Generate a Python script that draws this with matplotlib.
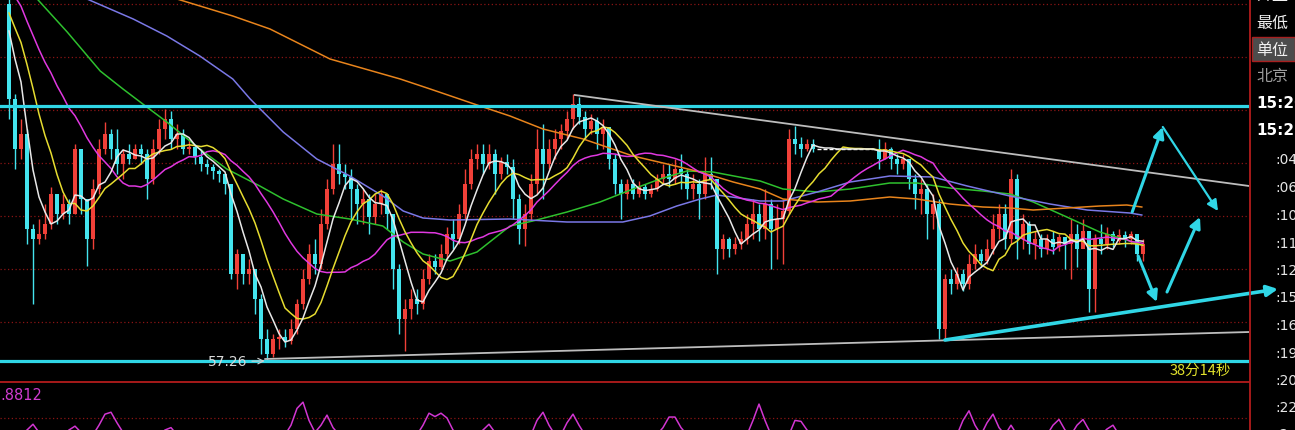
import numpy as np
import pandas as pd
import matplotlib.pyplot as plt
from matplotlib.lines import Line2D
from matplotlib.patches import Rectangle

plt.rcParams['font.family'] = ['Noto Sans CJK SC', 'DejaVu Sans']

# ---- data (price units, 0.01 per screen pixel) ----
first_open = 60.83
lead_closes = [61.68, 61.48, 61.58, 61.28, 61.38, 61.18, 61.08, 61.28, 60.98, 61.08,
               60.88, 60.98, 60.78, 60.88, 61.08, 60.78, 60.68, 60.88, 60.58]

closes = [59.88, 59.38, 59.53, 58.58, 58.48, 58.53, 58.63, 58.93, 58.73, 58.83,
          58.73, 59.38, 58.88, 58.48, 58.98, 59.38, 59.53, 59.38, 59.23, 59.33,
          59.28, 59.38, 59.33, 59.08, 59.38, 59.58, 59.68, 59.48, 59.53, 59.38,
          59.40, 59.30, 59.23, 59.20, 59.16, 59.13, 59.03, 58.13, 58.33, 58.13,
          58.18, 57.88, 57.48, 57.33, 57.48, 57.50, 57.46, 57.58, 57.83, 58.08,
          58.33, 58.23, 58.63, 58.98, 59.23, 59.13, 59.10, 58.98, 58.83, 58.88,
          58.70, 58.83, 58.93, 58.73, 58.18, 57.68, 57.78, 57.88, 57.83, 58.08,
          58.26, 58.20, 58.33, 58.53, 58.48, 58.73, 59.03, 59.28, 59.33, 59.23,
          59.33, 59.13, 59.25, 59.20, 58.88, 58.58, 58.73, 59.03, 59.38, 59.23,
          59.38, 59.48, 59.56, 59.68, 59.83, 59.70, 59.58, 59.66, 59.53, 59.60,
          59.28, 59.03, 58.93, 59.03, 58.93, 59.00, 58.93, 58.98, 59.08, 59.13,
          59.08, 59.18, 59.13, 58.98, 59.03, 58.93, 59.13, 59.08, 58.38, 58.48,
          58.38, 58.43, 58.48, 58.63, 58.73, 58.58, 58.83, 58.58, 58.68, 58.76,
          59.48, 59.43, 59.38, 59.43, 59.38, 59.38, 59.38, 59.38, 59.38, 59.38,
          59.38, 59.38, 59.38, 59.38, 59.38, 59.28, 59.38, 59.28, 59.23, 59.28,
          59.08, 58.93, 58.98, 58.73, 58.83, 57.58, 58.08, 58.03, 58.13, 58.03,
          58.23, 58.33, 58.26, 58.38, 58.58, 58.73, 58.48, 59.08, 58.48, 58.63,
          58.43, 58.48, 58.38, 58.48, 58.40, 58.50, 58.43, 58.53, 58.38, 58.56,
          57.98, 58.48, 58.43, 58.53, 58.46, 58.52, 58.48, 58.53, 58.33, 58.43]

highs = [60.88, 59.93, 59.68, 59.58, 58.63, 58.68, 58.83, 59.00, 58.93, 58.93,
         58.88, 59.43, 59.33, 58.88, 59.08, 59.48, 59.65, 59.58, 59.58, 59.38,
         59.43, 59.43, 59.43, 59.38, 59.48, 59.68, 59.78, 59.76, 59.63, 59.58,
         59.48, 59.43, 59.38, 59.28, 59.23, 59.18, 59.13, 59.03, 58.38, 58.33,
         58.28, 58.18, 57.93, 57.58, 57.53, 57.58, 57.58, 57.68, 57.88, 58.18,
         58.43, 58.48, 58.78, 59.08, 59.43, 59.43, 59.23, 59.18, 59.03, 58.98,
         58.93, 58.93, 58.98, 58.93, 58.73, 58.23, 57.88, 57.98, 57.98, 58.18,
         58.33, 58.33, 58.43, 58.60, 58.68, 58.83, 59.18, 59.38, 59.43, 59.43,
         59.43, 59.38, 59.30, 59.33, 59.28, 58.93, 58.83, 59.13, 59.58, 59.63,
         59.48, 59.58, 59.63, 59.76, 59.93, 59.90, 59.76, 59.73, 59.70, 59.68,
         59.58, 59.33, 59.08, 59.08, 59.08, 59.06, 59.03, 59.03, 59.13, 59.23,
         59.23, 59.28, 59.33, 59.18, 59.13, 59.08, 59.30, 59.30, 59.08, 58.53,
         58.50, 58.50, 58.56, 58.73, 58.88, 58.83, 58.98, 58.88, 58.83, 58.88,
         59.58, 59.61, 59.50, 59.48, 59.48, 59.38, 59.38, 59.38, 59.38, 59.38,
         59.38, 59.38, 59.38, 59.38, 59.38, 59.48, 59.45, 59.40, 59.33, 59.33,
         59.28, 59.13, 59.08, 59.03, 58.93, 58.88, 58.13, 58.18, 58.20, 58.18,
         58.33, 58.43, 58.38, 58.48, 58.73, 58.83, 58.83, 59.18, 59.13, 58.73,
         58.66, 58.56, 58.53, 58.53, 58.56, 58.53, 58.50, 58.68, 58.63, 58.68,
         58.56, 58.53, 58.63, 58.60, 58.56, 58.58, 58.56, 58.56, 58.50, 58.48]

lows = [59.68, 59.18, 59.28, 58.43, 57.83, 58.43, 58.48, 58.58, 58.63, 58.68,
        58.63, 58.73, 58.73, 58.21, 58.38, 58.93, 59.33, 59.28, 59.13, 59.08,
        59.23, 59.28, 59.23, 58.88, 59.03, 59.33, 59.48, 59.38, 59.38, 59.33,
        59.33, 59.23, 59.16, 59.13, 59.08, 59.05, 58.93, 58.08, 57.98, 58.03,
        58.03, 57.73, 57.33, 57.26, 57.30, 57.38, 57.40, 57.43, 57.53, 57.78,
        58.03, 58.13, 58.18, 58.58, 58.93, 59.03, 58.98, 58.68, 58.63, 58.63,
        58.53, 58.63, 58.73, 58.58, 57.98, 57.53, 57.36, 57.68, 57.73, 57.78,
        58.03, 58.13, 58.18, 58.28, 58.38, 58.43, 58.68, 58.98, 59.18, 59.13,
        59.18, 58.93, 59.08, 59.13, 58.68, 58.43, 58.41, 58.66, 58.93, 58.88,
        59.18, 59.28, 59.38, 59.48, 59.58, 59.63, 59.48, 59.53, 59.38, 59.38,
        59.18, 58.93, 58.68, 58.88, 58.88, 58.90, 58.88, 58.90, 58.96, 59.03,
        59.00, 59.03, 58.98, 58.88, 58.88, 58.68, 58.88, 58.98, 58.13, 58.28,
        58.30, 58.33, 58.38, 58.43, 58.48, 58.46, 58.48, 58.18, 58.28, 58.23,
        58.73, 59.33, 59.30, 59.36, 59.35, 59.38, 59.38, 59.38, 59.38, 59.38,
        59.38, 59.38, 59.38, 59.38, 59.38, 59.18, 59.28, 59.18, 59.13, 59.18,
        58.98, 58.78, 58.73, 58.48, 58.58, 57.48, 57.48, 57.93, 57.98, 57.96,
        57.98, 58.18, 58.20, 58.23, 58.33, 58.48, 58.38, 58.43, 58.28, 58.38,
        58.33, 58.28, 58.30, 58.33, 58.33, 58.36, 58.18, 58.08, 58.20, 58.43,
        57.75, 57.75, 58.33, 58.38, 58.40, 58.43, 58.40, 58.43, 58.26, 58.26]

# long moving averages (their history starts before the visible window)
ma60_idx = [1.8, 4.7, 9.7, 15.2, 19, 22.3, 26.3, 31.8, 36.3, 41.8, 45.7, 51.3, 56.8, 62.3,
            65.7, 69, 73.5, 78, 83.5, 87.3, 93, 98.5, 104, 108.5, 113, 117.3, 125.2, 129,
            134.7, 140.2, 146.8, 151.3, 156.8, 162.3, 166.8, 170.7, 176.3, 181.8, 187.3, 188.8]
ma60_val = [61.03, 60.88, 60.55, 60.16, 59.98, 59.83, 59.65, 59.38, 59.18, 59.01, 58.88, 58.73,
            58.68, 58.61, 58.45, 58.33, 58.26, 58.35, 58.61, 58.66, 58.75, 58.85, 58.98, 59.08,
            59.16, 59.15, 59.06, 58.98, 58.95, 58.98, 59.04, 59.04, 58.99, 58.96, 58.93, 58.85,
            58.70, 58.55, 58.45, 58.42]
ma120_idx = [8.5, 13, 20.7, 26.3, 31.8, 37.3, 40.2, 45.7, 51.3, 56.8, 62.3, 65.7, 69, 73.5,
             83.5, 93, 102.3, 106.8, 111.3, 115.2, 118, 125.2, 129, 134.7, 140.2, 146.8, 154,
             159.7, 166.8, 173.5, 179.7, 186.8, 188.8]
ma120_val = [61.08, 60.88, 60.68, 60.51, 60.31, 60.08, 59.88, 59.55, 59.28, 59.11, 58.91, 58.76,
             58.69, 58.67, 58.68, 58.65, 58.65, 58.71, 58.81, 58.88, 58.92, 58.86, 58.86, 58.95,
             59.05, 59.11, 59.10, 59.01, 58.91, 58.83, 58.77, 58.74, 58.72]
ma250_idx = [18.5, 28, 37.3, 43.5, 48.5, 53.5, 65.2, 70.2, 79, 83.5, 89, 95.7, 104, 109.7,
             115.2, 120.7, 125.2, 129, 134.7, 140.2, 146.8, 151.3, 156.8, 162.3, 166.8, 170.7,
             176.3, 181.8, 186.3, 188.8]
ma250_val = [61.03, 60.88, 60.71, 60.58, 60.43, 60.28, 60.08, 59.98, 59.80, 59.71, 59.58, 59.48,
             59.31, 59.23, 59.15, 59.05, 58.98, 58.88, 58.85, 58.86, 58.90, 58.88, 58.83, 58.80,
             58.79, 58.77, 58.79, 58.81, 58.82, 58.80]

# lower oscillator pane
osc = [-.1, -.1, -.1, 0, .12, -.05, -.1, -.1, -.1, -.1,
       0, .08, -.05, -.1, -.1, .1, .33, .37, .15, -.05,
       -.1, -.1, -.1, -.1, -.1, -.1, 0, .05, -.1, -.1,
       -.1, -.1, -.1, -.1, -.1, -.1, -.1, -.1, -.1, -.1,
       -.1, -.1, -.1, -.1, -.1, -.1, -.1, .1, .45, .58,
       .2, -.05, .1, .31, .05, -.1, -.1, -.1, -.1, -.1,
       -.1, -.1, -.1, -.1, -.1, -.1, -.1, -.1, -.1, .1,
       .35, .28, .35, .25, 0, -.1, -.1, -.1, -.1, 0,
       .12, -.05, -.1, -.1, -.1, -.1, -.1, -.1, .2, .37,
       .1, -.1, -.1, .15, .33, .1, -.1, -.1, -.1, -.1,
       -.1, -.1, -.1, -.1, -.1, -.1, -.1, -.1, -.1, .05,
       .27, .27, .05, -.1, -.1, -.1, -.1, -.1, -.1, -.1,
       -.1, -.1, -.1, -.1, .2, .54, .2, -.1, -.1, -.1,
       -.1, .2, .18, 0, -.1, -.1, -.1, -.1, -.1, -.1,
       -.1, -.1, -.1, -.1, -.1, -.1, -.1, -.1, -.1, -.1,
       -.1, -.1, -.1, -.1, -.1, -.1, -.1, -.1, -.1, .2,
       .4, .1, -.1, .15, .33, .05, -.1, .1, -.1, -.1,
       -.1, -.1, -.1, -.1, .1, .22, 0, -.1, .1, .22,
       0, -.1, -.1, .02, .1, -.1, -.1, -.1, -.1, -.1]

# drawn objects (candle index, price)
grid_levels = [60.83, 60.30, 59.77, 59.24, 58.71, 58.18, 57.65]
hlevels = [59.81, 57.26]
upper_trend = ([94.3, 206.7], [59.92, 59.01])
lower_trend = ([42.7, 206.7], [57.28, 57.55])
support_arrow = ((156.0, 57.47), (211.5, 57.98))
forecast_arrows = [((187.2, 58.75), (192.3, 59.60)),
                   ((192.3, 59.60), (201.5, 58.76)),
                   ((188.2, 58.31), (191.3, 57.85)),
                   ((193.0, 57.95), (198.5, 58.70))]
side_labels = ['开盘', '最低', '单位', '北京', '15:20', '15:21', ':04', ':06', ':10',
               ':11', ':12', ':15', ':16', ':19', ':20', ':22', ':2']

RED = '#f04038'
CYAN = '#44e4ee'
LINE_CYAN = '#30d6e6'
GRIDRED = '#8a1414'

W, H = 1295, 431
split = 1249
fig = plt.figure(figsize=(W / 100, H / 100), dpi=100, facecolor='black')
ax = fig.add_axes([0, 48 / H, split / W, 383 / H])
ax2 = fig.add_axes([0, 0, split / W, 48 / H])
for a in (ax, ax2):
    a.set_facecolor('black')
    a.set_axis_off()

n = len(closes)
idx = np.arange(n)
c = np.array(closes)
h = np.array(highs)
l = np.array(lows)
o = np.array([first_open] + closes[:-1])
up = c > o + 1e-9
down = c < o - 1e-9
flat = ~(up | down)

for g in grid_levels:
    ax.axhline(g, color=GRIDRED, lw=0.9, ls=(0, (1, 2)), zorder=1)

ax.vlines(idx[up], l[up], h[up], color=RED, lw=1, zorder=2)
ax.bar(idx[up], (c - o)[up], bottom=o[up], width=0.6, color=RED, lw=0, zorder=2)
ax.vlines(idx[down], l[down], h[down], color=CYAN, lw=1, zorder=2)
ax.bar(idx[down], (o - c)[down], bottom=c[down], width=0.6, color=CYAN, lw=0, zorder=2)
ax.hlines(c[flat], idx[flat] - 0.4, idx[flat] + 0.4, color='white', lw=1, zorder=2)

full = pd.Series(lead_closes + closes)
for win, col in [(20, '#e038e0'), (10, '#e6dc30'), (5, '#e8e8e8')]:
    ma = full.rolling(win).mean().to_numpy()[len(lead_closes):]
    ax.plot(idx, ma, color=col, lw=1.1, zorder=4)
ax.plot(ma60_idx, ma60_val, color='#2ec02e', lw=1.1, zorder=3)
ax.plot(ma120_idx, ma120_val, color='#7a78e6', lw=1.1, zorder=3)
ax.plot(ma250_idx, ma250_val, color='#e8841c', lw=1.1, zorder=3)

for lv in hlevels:
    ax.axhline(lv, color=LINE_CYAN, lw=2.3, zorder=5)
ax.plot(*upper_trend, color='#bdbdbd', lw=1.3, zorder=5)
ax.plot(*lower_trend, color='#bdbdbd', lw=1.3, zorder=5)

ax.annotate('', xy=support_arrow[1], xytext=support_arrow[0], annotation_clip=False,
            arrowprops=dict(arrowstyle='-|>', color=LINE_CYAN, lw=2.6,
                            mutation_scale=16, shrinkA=0, shrinkB=0), zorder=6)
for k, (s, e) in enumerate(forecast_arrows):
    ax.annotate('', xy=e, xytext=s, annotation_clip=False,
                arrowprops=dict(arrowstyle='-|>', color=LINE_CYAN, lw=2.2 if k != 1 else 1.6,
                                mutation_scale=16, shrinkA=0, shrinkB=0), zorder=6)

ax.annotate('57.26', xy=(42.6, 57.26), xytext=(39.8, 57.255), ha='right', va='center',
            color='#d8d8d8', fontsize=10, family='DejaVu Sans', zorder=7,
            arrowprops=dict(arrowstyle='->', color='#d0d0d0', lw=0.8, shrinkA=1, shrinkB=0))

ax.set_xlim(-1.5, (split - 9) / 6)
ax.set_ylim(57.05, 60.88)

# lower pane
ax2.axhline(0.25, color=GRIDRED, lw=0.9, ls=(0, (1, 2)))
ax2.plot(idx, osc, color='#d236d2', lw=1.1)
ax2.set_xlim(-1.5, (split - 9) / 6)
ax2.set_ylim(0, 1)
fig.text(0, 1 - 396 / H, '.8812', color='#d03cd0', fontsize=10.5, va='center', ha='left',
         family='DejaVu Sans')
fig.text(1170 / W, 1 - 371 / H, '38分14秒', color='#e2e22c', fontsize=10.5, va='center', ha='left')

# frame lines
fig.add_artist(Line2D([0, split / W], [48 / H, 48 / H], color='#b41c1c', lw=1.3))
fig.add_artist(Line2D([(split + 0.5) / W] * 2, [0, 1], color='#b41c1c', lw=1.3))

# right info column
fig.add_artist(Rectangle((1252 / W, 1 - 62 / H), 43 / W, 24 / H, facecolor='#4c4c4c',
                         edgecolor='#a82020', lw=1))
row_y = [-5, 23, 50, 77, 104, 131, 160, 188, 216, 244, 271, 298, 326, 354, 381, 408, 435]
for txt, py in zip(side_labels, row_y):
    if txt.startswith(':'):
        fig.text(1275 / W, 1 - py / H, txt, color='#e6e6e6', fontsize=10, va='center',
                 family='DejaVu Sans')
    elif txt[0].isdigit():
        fig.text(1256 / W, 1 - py / H, txt, color='white', fontsize=11, fontweight='bold',
                 va='center', family='DejaVu Sans')
    else:
        col = '#9c9c9c' if txt == '北京' else '#f0f0f0'
        fig.text(1256 / W, 1 - py / H, txt, color=col, fontsize=11.5, va='center')

fig.savefig('out.png', dpi=100, facecolor='black')
